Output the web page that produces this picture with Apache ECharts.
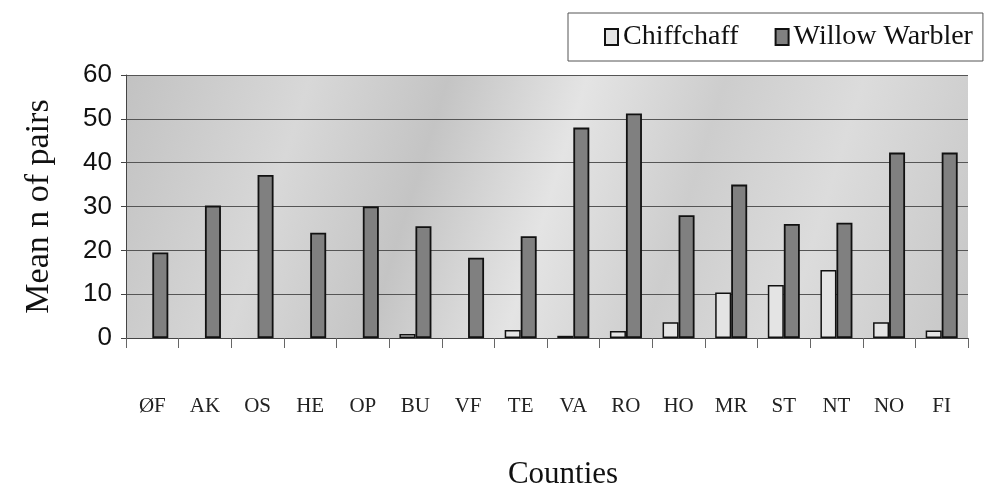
<!DOCTYPE html>
<html><head><meta charset="utf-8">
<script src="https://cdn.jsdelivr.net/npm/echarts@6/dist/echarts.min.js"></script>
<style>html,body{margin:0;padding:0;background:#fff}#c{width:998px;height:487px}</style>
</head><body><div id="c"></div>
<script>
const counties = ["ØF","AK","OS","HE","OP","BU","VF","TE","VA","RO","HO","MR","ST","NT","NO","FI"];
const chiffchaff = [0,0,0,0,0,0.9,0,1.8,0.5,1.6,3.6,10.4,12.1,15.5,3.6,1.7];
const willowWarbler = [19.5,30.2,37.2,24,30,25.5,18.3,23.2,48,51.2,28,35,26,26.3,42.3,42.3];
const yTicks = [0,10,20,30,40,50,60];

const chart = echarts.init(document.getElementById('c'), null, {renderer:'canvas'});
chart.setOption({
  animation:false,
  backgroundColor:'#fff',
  legend:{
    left:568, top:13, width:432, height:52,
    padding:[10,10,10,36],
    borderColor:'#555', borderWidth:1,
    icon:'rect',
    itemWidth:13, itemHeight:16, itemGap:36,
    textStyle:{fontFamily:'Liberation Serif', fontSize:28, color:'#111'},
    data:['Chiffchaff','Willow Warbler']
  },
  grid:{left:126, right:30, top:75, bottom:149, outerBoundsMode:'none', containLabel:false,
    show:true, borderWidth:0,
    backgroundColor:{type:'linear',x:0,y:0,x2:1,y2:1,colorStops:[
      {offset:0,color:'#c2c2c2'},{offset:0.2,color:'#d8d8d8'},{offset:0.35,color:'#c4c4c4'},
      {offset:0.5,color:'#e4e4e4'},{offset:0.65,color:'#cdcdcd'},{offset:0.8,color:'#dcdcdc'},{offset:1,color:'#c6c6c6'}]}
  },
  xAxis:{
    type:'category', data:counties,
    name:'Counties', nameLocation:'middle', nameGap:121,
    nameTextStyle:{fontFamily:'Liberation Serif', fontSize:31, color:'#111', padding:[0,0,0,32]},
    axisLine:{lineStyle:{color:'#444', width:1}},
    axisTick:{show:true, length:10, lineStyle:{color:'#666'}},
    axisLabel:{margin:58, fontFamily:'Liberation Serif', fontSize:21, color:'#222'}
  },
  yAxis:{
    type:'value', min:0, max:60, interval:10,
    name:'Mean n of pairs', nameLocation:'middle', nameGap:70,
    nameTextStyle:{fontFamily:'Liberation Serif', fontSize:34, color:'#111'},
    axisLine:{show:true, lineStyle:{color:'#444'}},
    axisTick:{show:true, length:5, lineStyle:{color:'#444'}},
    axisLabel:{margin:14, fontFamily:'Liberation Sans', fontSize:26, color:'#111',
      formatter:v=>yTicks.includes(v)?String(v):''},
    splitLine:{lineStyle:{color:'#555', width:1}}
  },
  series:[
    {name:'Chiffchaff', type:'bar', data:chiffchaff.map(v=>v===0?'-':v), barWidth:16, barGap:'0%', barCategoryGap:'39%',
      itemStyle:{color:'#e4e4e4', borderColor:'#111', borderWidth:1.5}},
    {name:'Willow Warbler', type:'bar', data:willowWarbler, barWidth:16,
      itemStyle:{color:'#808080', borderColor:'#111', borderWidth:1.8}}
  ]
});
</script></body></html>
